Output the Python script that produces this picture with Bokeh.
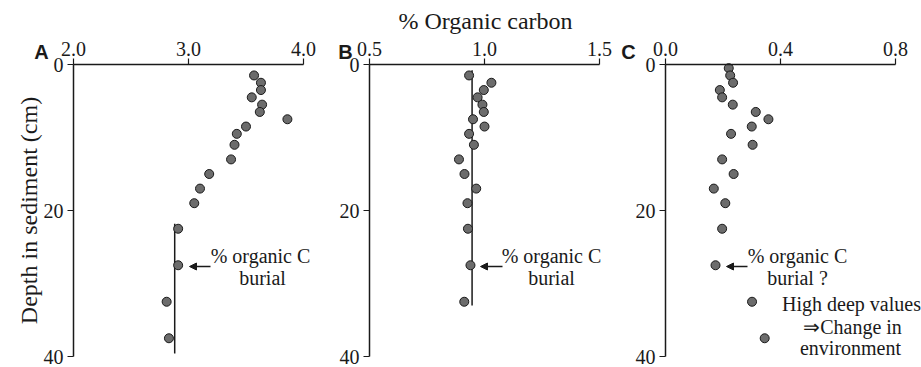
import math
from bokeh.plotting import figure
from bokeh.models import (Range1d, FixedTicker, PrintfTickFormatter, Label, Arrow,
                          NormalHead, LinearAxis)
from bokeh.embed import file_html
from bokeh.resources import INLINE

# ---- data ----
depth_a = [1.5, 2.5, 3.5, 4.5, 5.5, 6.5, 7.5, 8.5, 9.5, 11, 13, 15, 17, 19, 22.5, 27.5, 32.5, 37.5]
oc_a = [3.57, 3.63, 3.63, 3.55, 3.64, 3.62, 3.86, 3.50, 3.42, 3.40, 3.37, 3.18, 3.10, 3.05, 2.91, 2.91, 2.81, 2.83]

depth_b = [1.5, 2.5, 3.5, 4.5, 5.5, 6.5, 7.5, 8.5, 9.5, 11, 13, 15, 17, 19, 22.5, 27.5, 32.5]
oc_b = [0.933, 1.030, 0.997, 0.970, 0.991, 0.997, 0.950, 1.000, 0.933, 0.954, 0.889, 0.913, 0.964, 0.926, 0.928, 0.939, 0.912]

depth_c = [0.5, 1.5, 2.5, 3.5, 4.5, 5.5, 6.5, 7.5, 8.5, 9.5, 11, 13, 15, 17, 19, 22.5, 27.5, 32.5, 37.5]
oc_c = [0.220, 0.225, 0.235, 0.189, 0.197, 0.234, 0.314, 0.358, 0.300, 0.228, 0.303, 0.197, 0.237, 0.168, 0.208, 0.197, 0.174, 0.301, 0.345]

# burial reference lines: (x value, depth start, depth end)
burial_a = (2.88, 21.8, 39.6)
burial_b = (0.946, 0.8, 33.0)

x_ticks_a = [2.0, 3.0, 4.0]
x_ticks_b = [0.5, 1.0, 1.5]
x_ticks_c = [0.0, 0.4, 0.8]
y_ticks = [0, 20, 40]

# ---- layout (page pixels) ----
W, H = 921, 367
FX0, FY0 = 0, 0                 # page position of the canvas
FX1, FY1 = FX0 + W, FY0 + H
# axis anchors: (value0, page px0, value1, page px1)
ANCH_A = (2.0, 73, 4.0, 303)
ANCH_B = (0.5, 369, 1.5, 599)
ANCH_C = (0.0, 665, 0.8, 895)
ANCH_Y = (0.0, 64, 40.0, 356)

SERIF = "Liberation Serif"
SANS = "Liberation Sans"
PT_FILL = "#6c6c6c"
INK = "#1a1a1a"


def span(anch, lo, hi):
    v0, p0, v1, p1 = anch
    s = (p1 - p0) / (v1 - v0)
    return v0 + (lo - p0) / s, v0 + (hi - p0) / s


def inv(anch, px):
    v0, p0, v1, p1 = anch
    return v0 + (px - p0) * (v1 - v0) / (p1 - p0)


ya_lo, ya_hi = span(ANCH_Y, FY0, FY1)
p = figure(
    width=W, height=H,
    x_range=Range1d(*span(ANCH_A, FX0, FX1)),
    y_range=Range1d(ya_hi, ya_lo),
    x_axis_type=None, y_axis_type=None,
    min_border_left=0, min_border_right=0, min_border_top=0, min_border_bottom=0,
    toolbar_location=None, output_backend="svg",
)
p.extra_x_ranges = {
    "b": Range1d(*span(ANCH_B, FX0, FX1)),
    "c": Range1d(*span(ANCH_C, FX0, FX1)),
}
p.outline_line_color = None
p.grid.visible = False


def style_axis(ax):
    ax.axis_line_color = INK
    ax.axis_line_width = 1.5
    ax.major_tick_line_color = INK
    ax.major_tick_line_width = 1.2
    ax.major_tick_in = 0
    ax.major_tick_out = 6
    ax.minor_tick_line_color = None
    ax.major_label_text_font = SERIF
    ax.major_label_text_font_size = "20px"
    ax.major_label_text_color = INK


def add_axes(xname, xticks):
    xb = (xticks[0], xticks[-1])
    xa = LinearAxis(x_range_name=xname, fixed_location=0, bounds=xb,
                    ticker=FixedTicker(ticks=xticks),
                    formatter=PrintfTickFormatter(format="%.1f"))
    style_axis(xa)
    xa.major_label_standoff = 3
    p.add_layout(xa, "above")
    ya = LinearAxis(x_range_name=xname, fixed_location=xticks[0], bounds=(0, 40),
                    ticker=FixedTicker(ticks=y_ticks))
    style_axis(ya)
    ya.major_label_standoff = 4
    p.add_layout(ya, "left")


def add_points(xs, ys, xname):
    p.scatter(xs, ys, size=9, fill_color=PT_FILL, line_color=INK, line_width=1,
              x_range_name=xname)


def add_text(xname, x, y, text, size="20px", font=SERIF, style="normal", angle=0.0):
    p.add_layout(Label(x=x, y=y, x_range_name=xname, text=text, text_font=font,
                       text_font_size=size, text_font_style=style, text_align="center",
                       text_baseline="middle", text_color=INK, angle=angle))


def add_arrow(xname, x0, x1, y):
    p.add_layout(Arrow(end=NormalHead(size=7, fill_color=INK, line_color=INK, line_width=1),
                       x_start=x0, y_start=y, x_end=x1, y_end=y, x_range_name=xname,
                       line_color=INK, line_width=1.5))


XA, XB, XC = "default", "b", "c"
ay = lambda py: inv(ANCH_Y, py)

# ---- panel A ----
add_axes(XA, x_ticks_a)
p.segment(x0=[burial_a[0]], y0=[burial_a[1]], x1=[burial_a[0]], y1=[burial_a[2]],
          line_color=INK, line_width=1.5)
add_points(oc_a, depth_a, XA)
add_text(XA, inv(ANCH_A, 41), ay(51), "A", size="20px", font=SANS, style="bold")
add_text(XA, inv(ANCH_A, 28), ay(210), "Depth in sediment (cm)", size="24px", angle=math.pi / 2)
add_arrow(XA, inv(ANCH_A, 210), inv(ANCH_A, 189), ay(266))
add_text(XA, inv(ANCH_A, 260), ay(255), "% organic C")
add_text(XA, inv(ANCH_A, 262), ay(277), "burial")

# ---- panel B ----
add_axes(XB, x_ticks_b)
p.segment(x0=[burial_b[0]], y0=[burial_b[1]], x1=[burial_b[0]], y1=[burial_b[2]],
          line_color=INK, line_width=1.5, x_range_name=XB)
add_points(oc_b, depth_b, XB)
add_text(XB, inv(ANCH_B, 345), ay(51), "B", size="20px", font=SANS, style="bold")
add_text(XB, inv(ANCH_B, 485), ay(20), "% Organic carbon", size="24px")
add_arrow(XB, inv(ANCH_B, 502), inv(ANCH_B, 480), ay(266))
add_text(XB, inv(ANCH_B, 551), ay(255), "% organic C")
add_text(XB, inv(ANCH_B, 551), ay(277), "burial")

# ---- panel C ----
add_axes(XC, x_ticks_c)
add_points(oc_c, depth_c, XC)
add_text(XC, inv(ANCH_C, 628), ay(51), "C", size="20px", font=SANS, style="bold")
add_arrow(XC, inv(ANCH_C, 747), inv(ANCH_C, 726), ay(266))
add_text(XC, inv(ANCH_C, 797), ay(255), "% organic C")
add_text(XC, inv(ANCH_C, 797), ay(277), "burial ?")
add_text(XC, inv(ANCH_C, 851), ay(303), "High deep values")
add_text(XC, inv(ANCH_C, 852), ay(326), "\u21d2Change in")
add_text(XC, inv(ANCH_C, 850), ay(347), "environment")

open("out.html", "w").write(file_html(p, INLINE))
